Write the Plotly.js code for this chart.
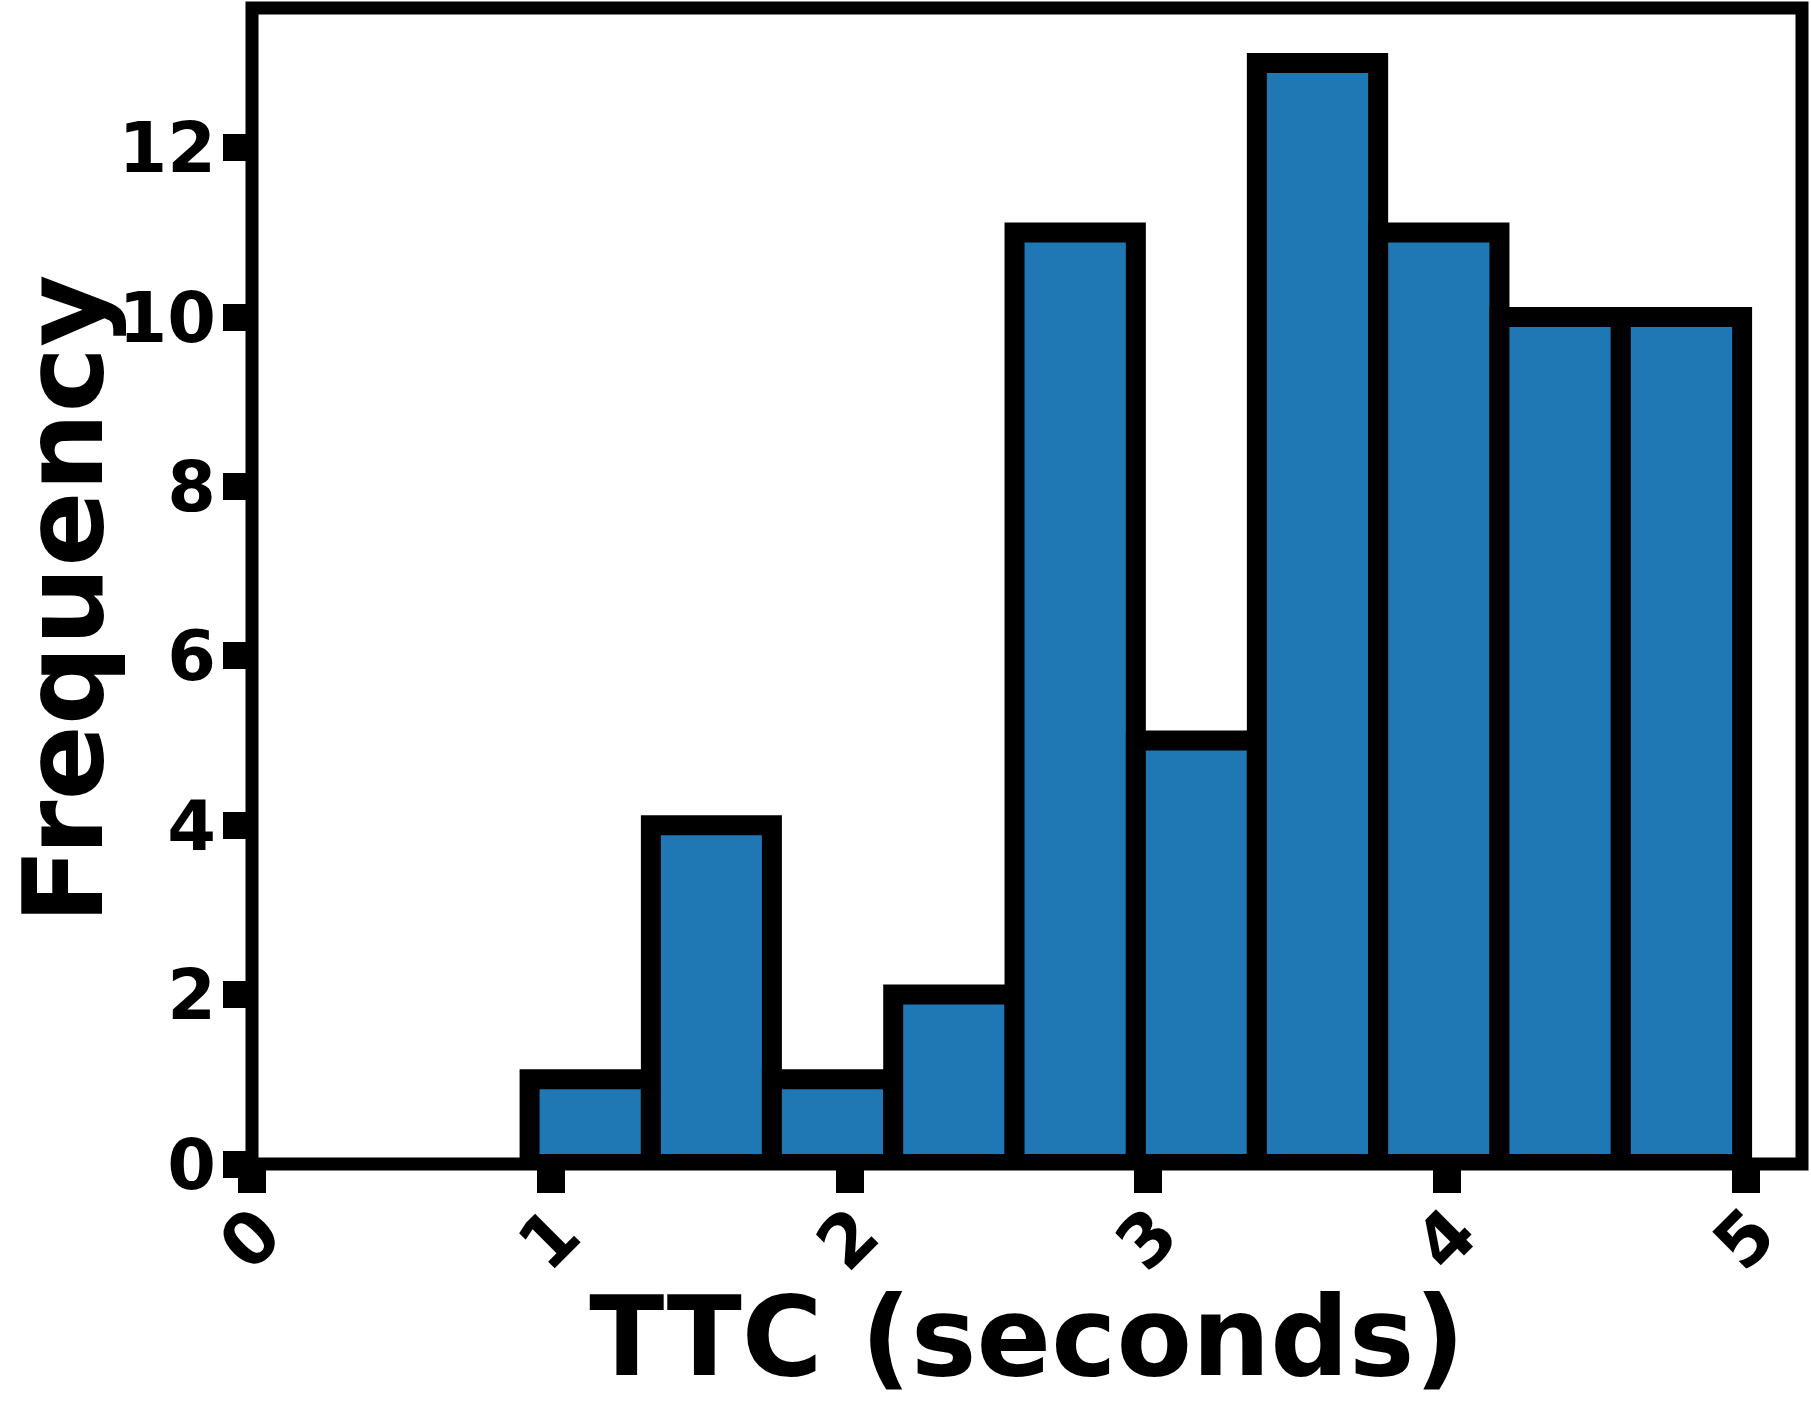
<!DOCTYPE html>
<html>
<head>
<meta charset="utf-8">
<script src="https://cdn.plot.ly/plotly-3.0.1.min.js"></script>
<style>html,body{margin:0;padding:0;background:#fff;}#chart{width:1811px;height:1401px;}</style>
</head>
<body>
<div id="chart"></div>
<script>
// Histogram bin edges (TTC, seconds) and counts
const binEdges = [0.929, 1.335, 1.740, 2.146, 2.552, 2.958, 3.363, 3.769, 4.175, 4.581, 4.987];
const counts = [1, 4, 1, 2, 11, 5, 13, 11, 10, 10];
const xTickVals = [0, 1, 2, 3, 4, 5];
const xTickText = ['0', '1', '2', '3', '4', '5'];
const yTickVals = [0, 2, 4, 6, 8, 10, 12];
const yTickText = ['0', '2', '4', '6', '8', '10', '12'];
const xTitle = 'TTC (seconds)';
const yTitle = 'Frequency';

const centers = counts.map((_, i) => (binEdges[i] + binEdges[i + 1]) / 2);
const widths = counts.map((_, i) => binEdges[i + 1] - binEdges[i]);

const FONT = 'DejaVu Sans, sans-serif';

const trace = {
  type: 'bar',
  x: centers,
  y: counts,
  width: widths,
  marker: { color: '#1f77b4', line: { color: '#000000', width: 20 } },
  hoverinfo: 'skip'
};

const layout = {
  width: 1811,
  height: 1401,
  margin: { l: 252, r: 9, t: 8, b: 237, pad: 0 },
  paper_bgcolor: '#ffffff',
  plot_bgcolor: '#ffffff',
  showlegend: false,
  bargap: 0,
  xaxis: {
    range: [0, 5.1875],
    tickmode: 'array',
    tickvals: xTickVals,
    ticktext: xTickText,
    ticks: 'outside',
    ticklen: 28,
    tickwidth: 28,
    tickcolor: '#000',
    tickangle: -45,
    ticklabelstandoff: -30,
    ticklabelshift: 8,
    tickfont: { family: FONT, size: 72, color: '#000', weight: 'bold' },
    showgrid: false,
    zeroline: false,
    showline: false,
    title: { text: xTitle, font: { family: FONT, size: 110, color: '#000', weight: 'bold' } }
  },
  yaxis: {
    range: [0, 13.65],
    tickmode: 'array',
    tickvals: yTickVals,
    ticktext: yTickText,
    ticks: 'outside',
    ticklen: 28,
    tickwidth: 27,
    tickcolor: '#000',
    ticklabelstandoff: -7,
    tickfont: { family: FONT, size: 70, color: '#000', weight: 'bold' },
    showgrid: false,
    zeroline: false,
    showline: false
  },
  annotations: [{
    text: yTitle,
    xref: 'paper', yref: 'paper',
    x: 0, y: 0.5,
    xanchor: 'center', yanchor: 'middle',
    xshift: -189, yshift: -13,
    textangle: -90,
    showarrow: false,
    font: { family: FONT, size: 111, color: '#000', weight: 'bold' }
  }],
  shapes: [{
    type: 'rect', xref: 'paper', yref: 'paper', x0: 0, x1: 1, y0: 0, y1: 1,
    line: { color: '#000', width: 13 }, fillcolor: 'rgba(0,0,0,0)', layer: 'above'
  }]
};

Plotly.newPlot('chart', [trace], layout, { staticPlot: true, displayModeBar: false });
</script>
</body>
</html>
